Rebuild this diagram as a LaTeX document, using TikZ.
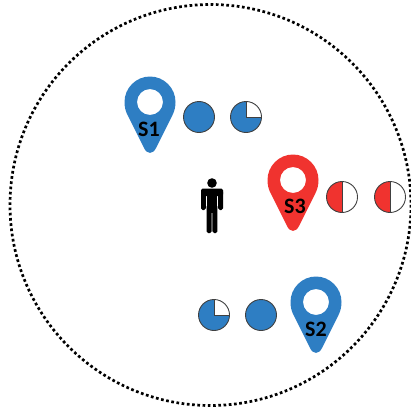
\documentclass[tikz,border=0pt]{standalone}
\usepackage{fontspec}
\setmainfont{Carlito}
\definecolor{pinblue}{HTML}{2E7EC3}
\definecolor{pinred}{HTML}{F0332F}
\definecolor{ringgrey}{HTML}{404040}
\tikzset{
  pinlabel/.style={font=\bfseries\fontsize{22}{22}\selectfont,text=black,inner sep=0pt},
  ring/.style={draw=ringgrey,line width=0.9pt},
  limb/.style={fill=black,rounded corners=1.6pt},
  pics/mappin/.style={code={
    \fill[#1,even odd rule]
      (-25.5,0) .. controls (-25.5,-14) and (-14,-25.5) .. (0,-25.5)
      .. controls (14,-25.5) and (25.5,-14) .. (25.5,0)
      .. controls (25.5,5) and (24.5,9) .. (22.5,13)
      -- (6,46)
      .. controls (3,52.5) and (-3,52.5) .. (-6,46)
      -- (-22.5,13)
      .. controls (-24.5,9) and (-25.5,5) .. (-25.5,0) -- cycle
      (0,0) circle[radius=13];
  }},
  pics/fulldisc/.style={code={
    \filldraw[fill=pinblue,ring] (0,0) circle[radius=15.5];
  }},
  pics/quarterdisc/.style={code={
    \fill[pinblue] (0,0) circle[radius=15.5];
    \begin{scope}
      \clip (0,-17) rectangle (17,0);
      \fill[white] (0,0) circle[radius=15.5];
    \end{scope}
    \draw[ring] (0,0) circle[radius=15.5];
    \draw[draw=ringgrey,line width=0.8pt] (0,-15.5) -- (0,0) -- (15.5,0);
  }},
  pics/halfdisc/.style={code={
    \fill[white] (0,0) circle[radius=15.5];
    \begin{scope}
      \clip (-17,-17) rectangle (0,17);
      \fill[pinred] (0,0) circle[radius=15.5];
    \end{scope}
    \draw[ring] (0,0) circle[radius=15.5];
    \draw[draw=ringgrey,line width=0.8pt] (0,-15.5) -- (0,15.5);
  }},
}
\begin{document}
\begin{tikzpicture}[x=1pt,y=-1pt]
\useasboundingbox (0,0) rectangle (411,412);
\draw[line width=2.7pt,dash pattern=on 2.7pt off 2.55pt] (210.5,205) circle[radius=200.5];
% pins
\pic at (150,102) {mappin=pinblue};
\pic at (293,180) {mappin=pinred};
\pic at (316,302) {mappin=pinblue};
\node[pinlabel] (s1) at (149,129) {S1};
\node[pinlabel] (s3) at (295,206) {S3};
\node[pinlabel] (s2) at (316,329) {S2};
% discs
\pic at (199,117) {fulldisc};
\pic at (246,117) {quarterdisc};
\pic at (342,197) {halfdisc};
\pic at (390,197) {halfdisc};
\pic at (214,315) {quarterdisc};
\pic at (261,315) {fulldisc};
% person
\fill (212,183) circle[radius=4.8];
\path[limb] (201,188.5) rectangle (223,196);
\path[limb] (201,190) rectangle (205.8,210);
\path[limb] (218.2,190) rectangle (223,210);
\fill (206.6,190) rectangle (217.4,213);
\path[limb] (206.6,205) rectangle (211.6,233);
\path[limb] (212.4,205) rectangle (217.4,233);
\end{tikzpicture}
\end{document}
